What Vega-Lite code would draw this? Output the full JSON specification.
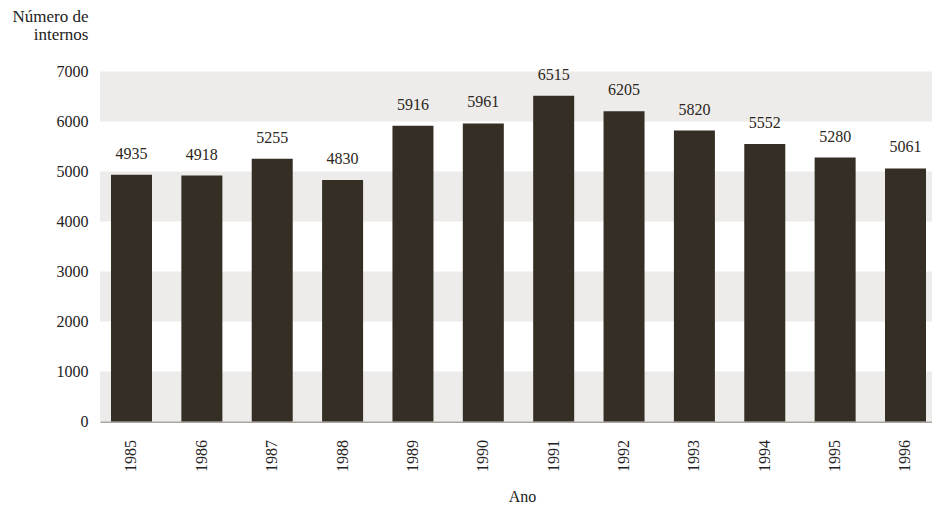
{
  "$schema": "https://vega.github.io/schema/vega-lite/v6.json",
  "autosize": {"type": "none"},
  "padding": {"left": 100, "top": 71.5, "right": 0, "bottom": 84.5},
  "width": 832,
  "height": 350,
  "background": "white",
  "config": {
    "view": {"stroke": null},
    "font": "Liberation Serif",
    "text": {"font": "Liberation Serif"}
  },
  "datasets": {
    "internos": [
      {"ano": "1985", "internos": 4935},
      {"ano": "1986", "internos": 4918},
      {"ano": "1987", "internos": 5255},
      {"ano": "1988", "internos": 4830},
      {"ano": "1989", "internos": 5916},
      {"ano": "1990", "internos": 5961},
      {"ano": "1991", "internos": 6515},
      {"ano": "1992", "internos": 6205},
      {"ano": "1993", "internos": 5820},
      {"ano": "1994", "internos": 5552},
      {"ano": "1995", "internos": 5280},
      {"ano": "1996", "internos": 5061}
    ],
    "faixas": [
      {"de": 0, "ate": 1000},
      {"de": 2000, "ate": 3000},
      {"de": 4000, "ate": 5000},
      {"de": 6000, "ate": 7000}
    ]
  },
  "layer": [
    {
      "data": {"name": "faixas"},
      "mark": {"type": "rect", "color": "#edecea"},
      "encoding": {
        "y": {"field": "de", "type": "quantitative", "scale": {"domain": [0, 7000], "nice": false, "zero": true}},
        "y2": {"field": "ate"}
      }
    },
    {
      "data": {"name": "internos"},
      "mark": {"type": "bar", "color": "#352e25"},
      "encoding": {
        "x": {
          "field": "ano",
          "type": "ordinal",
          "scale": {"paddingInner": 0.4173, "paddingOuter": 0.1208, "align": 0.647},
          "axis": {
            "title": "Ano",
            "titleFontSize": 16,
            "titleFontWeight": "normal",
            "titleColor": "#222",
            "titleBaseline": "alphabetic",
            "titleY": 80,
            "titleX": 422,
            "labelAngle": 270,
            "labelFontSize": 16,
            "labelColor": "#222",
            "labelPadding": 18,
            "ticks": false,
            "tickSize": 0,
            "domainColor": "#aaa69f",
            "domainWidth": 2
          }
        },
        "y": {
          "field": "internos",
          "type": "quantitative",
          "scale": {"domain": [0, 7000], "nice": false, "zero": true},
          "axis": {
            "title": ["Número de", "internos"],
            "titleAngle": 0,
            "titleAlign": "right",
            "titleBaseline": "alphabetic",
            "titleX": -12,
            "titleY": -50,
            "titleLineHeight": 18,
            "titleFontSize": 17,
            "titleFontWeight": "normal",
            "titleColor": "#222",
            "values": [0, 1000, 2000, 3000, 4000, 5000, 6000, 7000],
            "format": "d",
            "grid": false,
            "domain": false,
            "ticks": false,
            "tickSize": 0,
            "labelPadding": 12,
            "labelFontSize": 16,
            "labelColor": "#222",
            "labelBaseline": "middle"
          }
        }
      }
    },
    {
      "data": {"name": "internos"},
      "mark": {"type": "text", "baseline": "middle", "dy": -21, "fontSize": 16, "color": "#2b2620"},
      "encoding": {
        "x": {"field": "ano", "type": "ordinal"},
        "y": {"field": "internos", "type": "quantitative"},
        "text": {"field": "internos", "type": "quantitative", "format": "d"}
      }
    }
  ]
}
